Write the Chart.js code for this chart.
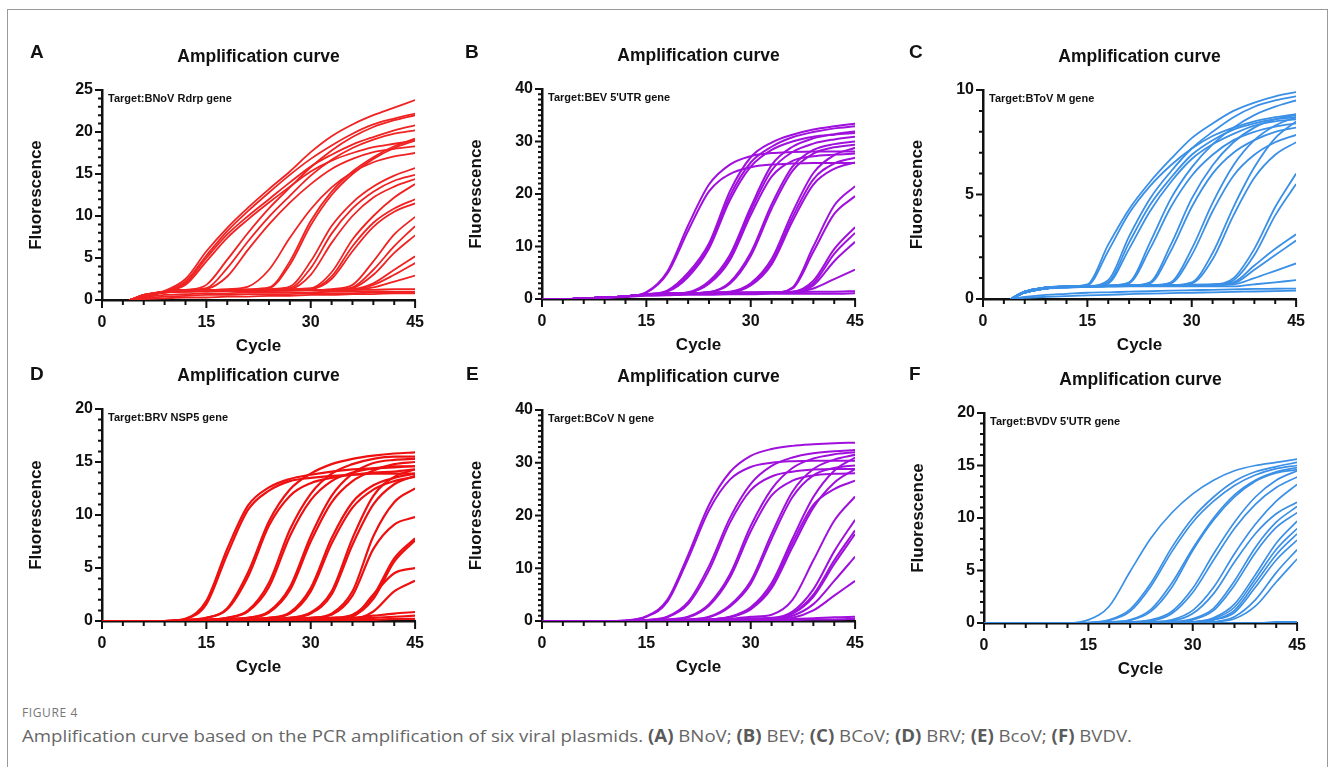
<!DOCTYPE html>
<html>
<head>
<meta charset="utf-8">
<script src="https://cdn.jsdelivr.net/npm/chart.js@4.4.1/dist/chart.umd.min.js"></script>
<style>
  body { margin: 0; width: 1330px; height: 767px; background: #fff; position: relative; overflow: hidden; }
  #frame { position: absolute; left: 7px; top: 9px; width: 1321px; height: 800px; border: 1px solid #9a9a9a; box-sizing: border-box; }
  canvas { position: absolute; }
  #figno { position: absolute; left: 22px; top: 704px; font: 12px "Open Sans", sans-serif; letter-spacing: 0.6px; color: #777; }
  #caption { position: absolute; left: 22px; top: 724px; font: 17px "Open Sans", sans-serif; color: #666; white-space: nowrap; transform-origin: 0 0; }
  #caption b { font-weight: 700; color: #5a5a5a; }
</style>
</head>
<body>
<div id="frame"></div>
<div id="figno">FIGURE 4</div>
<div id="caption">Amplification curve based on the PCR amplification of six viral plasmids. <b>(A)</b> BNoV; <b>(B)</b> BEV; <b>(C)</b> BCoV; <b>(D)</b> BRV; <b>(E)</b> BcoV; <b>(F)</b> BVDV.</div>
<script>
// cycles sampled per panel (A and C start at cycle 4)
const cyclesA = [4, 6, 9, 12, 15, 18, 21, 24, 27, 30, 33, 36, 39, 42, 45];
const cyclesC = [4, 6, 9, 12, 15, 18, 21, 24, 27, 30, 33, 36, 39, 42, 45];
const cyclesFull = [0, 3, 6, 9, 12, 15, 18, 21, 24, 27, 30, 33, 36, 39, 42, 45];

// A: BNoV Rdrp
const curvesA = [
  [0,0.6,1.1,2.5,5.8,8.6,11.0,13.2,15.3,17.6,19.5,20.9,22.0,22.9,23.8],
  [0,0.6,1.0,2.2,5.3,8.2,10.6,12.8,14.9,16.8,18.4,19.8,20.9,21.6,22.2],
  [0,0.5,1.0,2.0,5.0,7.8,10.0,12.0,14.0,15.9,17.3,18.5,19.4,20.2,20.8],
  [0,0.5,1.0,1.8,4.6,7.4,9.6,11.6,13.5,15.3,16.6,17.5,18.2,18.6,19.0],
  [0,0.6,1.0,1.2,1.8,4.8,8.0,10.9,13.4,15.8,17.8,19.4,20.6,21.4,22.0],
  [0,0.5,1.0,1.2,1.4,3.8,7.0,9.9,12.4,14.8,16.7,18.1,19.1,19.8,20.2],
  [0,0.5,0.9,1.1,1.3,2.8,6.0,9.0,11.6,13.8,15.6,16.8,17.6,18.0,18.3],
  [0,0.5,1.0,1.2,1.2,1.3,1.6,3.6,7.4,10.8,13.4,15.2,16.4,17.1,17.5],
  [0,0.5,1.0,1.2,1.2,1.2,1.3,1.5,4.6,9.4,12.9,15.3,17.0,18.3,19.2],
  [0,0.5,0.9,1.1,1.1,1.2,1.2,1.4,4.2,8.9,12.5,15.0,16.8,18.1,19.0],
  [0,0.5,1.0,1.2,1.2,1.2,1.2,1.3,1.6,4.6,8.8,11.6,13.5,14.8,15.7],
  [0,0.5,1.0,1.1,1.1,1.2,1.2,1.2,1.4,3.8,7.9,10.9,12.9,14.2,14.9],
  [0,0.4,0.9,1.1,1.1,1.1,1.2,1.2,1.3,3.0,6.8,10.0,12.2,13.5,14.4],
  [0,0.5,1.0,1.2,1.2,1.2,1.2,1.2,1.3,1.4,3.3,7.2,10.0,12.2,13.8],
  [0,0.5,1.0,1.1,1.1,1.2,1.2,1.2,1.2,1.3,2.8,6.4,9.2,10.9,12.0],
  [0,0.4,0.9,1.1,1.1,1.1,1.2,1.2,1.2,1.3,2.5,5.8,8.7,10.5,11.5],
  [0,0.5,1.0,1.1,1.1,1.2,1.2,1.2,1.2,1.2,1.3,1.8,4.6,7.8,9.9],
  [0,0.5,0.9,1.1,1.1,1.1,1.1,1.2,1.2,1.2,1.2,1.5,3.6,6.4,8.8],
  [0,0.4,0.9,1.0,1.1,1.1,1.1,1.1,1.2,1.2,1.2,1.4,3.0,5.6,7.7],
  [0,0.5,1.0,1.1,1.1,1.2,1.2,1.2,1.2,1.2,1.2,1.3,2.0,3.6,5.2],
  [0,0.5,0.9,1.0,1.1,1.1,1.1,1.1,1.2,1.2,1.2,1.2,1.8,3.0,4.4],
  [0,0.4,0.9,1.0,1.0,1.1,1.1,1.1,1.1,1.2,1.2,1.2,1.5,2.2,2.9],
  [0,0.6,1.0,1.1,1.1,1.1,1.2,1.2,1.2,1.2,1.2,1.2,1.2,1.3,1.3],
  [0,0.3,0.6,0.7,0.8,0.8,0.9,0.9,0.9,0.9,1.0,1.0,1.0,1.0,1.0],
  [0,0.1,0.2,0.3,0.3,0.4,0.4,0.5,0.5,0.6,0.6,0.7,0.7,0.8,0.8],
  [0,0.2,0.4,0.5,0.6,0.6,0.7,0.7,0.7,0.8,0.8,0.8,0.9,0.9,0.9]
];

// B: BEV 5'UTR
const curvesB = [
  [0,0,0.1,0.3,0.5,1.3,5.2,14.0,21.8,25.6,27.2,27.8,28.0,28.1,28.1,28.1],
  [0,0,0.1,0.3,0.5,1.2,4.8,13.0,20.5,23.8,25.1,25.6,25.8,25.9,25.9,25.9],
  [0,0,0.1,0.3,0.5,0.9,1.6,5.0,10.6,20.5,27.0,29.8,31.3,32.3,32.9,33.4],
  [0,0,0.1,0.3,0.5,0.9,1.5,4.6,10.0,19.6,26.0,29.0,30.8,31.8,32.5,32.9],
  [0,0,0.1,0.3,0.5,0.9,1.4,4.2,9.6,18.8,25.2,28.4,30.0,30.9,31.3,31.6],
  [0,0,0.1,0.3,0.5,0.8,1.0,1.3,3.4,8.4,17.5,25.5,29.0,30.6,31.4,31.9],
  [0,0,0.1,0.3,0.5,0.8,1.0,1.2,3.1,7.8,16.8,24.5,28.0,29.6,30.4,30.9],
  [0,0,0.1,0.3,0.5,0.8,1.0,1.2,2.9,7.4,16.0,23.3,26.3,27.2,27.5,27.7],
  [0,0,0.1,0.3,0.5,0.8,1.0,1.1,1.3,3.2,8.8,18.0,25.2,28.4,29.5,30.0],
  [0,0,0.1,0.3,0.5,0.8,1.0,1.1,1.3,2.9,8.2,17.2,24.4,27.7,28.9,29.4],
  [0,0,0.1,0.3,0.5,0.8,1.0,1.1,1.2,1.4,3.0,7.6,16.5,24.0,27.4,28.8],
  [0,0,0.1,0.3,0.5,0.8,1.0,1.1,1.2,1.3,2.8,7.0,15.6,22.8,25.8,26.9],
  [0,0,0.1,0.3,0.5,0.8,1.0,1.1,1.2,1.3,2.6,6.6,14.8,21.8,24.8,26.0],
  [0,0,0.1,0.3,0.5,0.8,1.0,1.1,1.2,1.2,1.2,1.2,2.2,10.0,17.8,21.5],
  [0,0,0.1,0.3,0.5,0.8,1.0,1.1,1.2,1.2,1.2,1.2,2.0,9.0,16.2,19.6],
  [0,0,0.1,0.3,0.5,0.8,1.0,1.1,1.2,1.2,1.2,1.3,1.4,3.5,9.5,13.7],
  [0,0,0.1,0.3,0.5,0.8,1.0,1.1,1.2,1.2,1.2,1.3,1.4,3.0,8.6,12.6],
  [0,0,0.1,0.3,0.5,0.8,1.0,1.1,1.1,1.2,1.2,1.2,1.3,2.6,7.2,10.9],
  [0,0,0.1,0.3,0.5,0.8,1.0,1.1,1.1,1.2,1.2,1.2,1.3,2.0,3.8,5.6],
  [0,0,0.1,0.3,0.5,0.8,0.9,1.0,1.1,1.1,1.2,1.3,1.3,1.4,1.4,1.5],
  [0,0,0.1,0.2,0.4,0.6,0.7,0.8,0.8,0.9,0.9,1.0,1.0,1.0,1.0,1.1]
];

// C: BToV M
const curvesC = [
  [0,0.35,0.55,0.6,0.7,2.6,4.3,5.6,6.7,7.7,8.4,9.0,9.4,9.7,9.9],
  [0,0.35,0.55,0.6,0.65,2.3,4.1,5.4,6.4,7.2,7.8,8.2,8.5,8.7,8.85],
  [0,0.35,0.55,0.6,0.62,0.9,3.0,4.8,6.1,7.2,8.0,8.7,9.2,9.5,9.7],
  [0,0.3,0.5,0.58,0.6,0.8,2.7,4.5,5.8,6.9,7.6,8.1,8.4,8.6,8.7],
  [0,0.3,0.5,0.58,0.6,0.75,2.4,4.2,5.6,6.7,7.4,7.9,8.3,8.5,8.6],
  [0,0.35,0.55,0.6,0.62,0.65,0.8,2.7,4.8,6.3,7.4,8.2,8.8,9.2,9.5],
  [0,0.3,0.5,0.58,0.6,0.62,0.75,2.4,4.4,5.9,6.9,7.6,8.0,8.25,8.4],
  [0,0.35,0.55,0.6,0.62,0.64,0.65,0.8,2.6,4.8,6.4,7.5,8.2,8.6,8.8],
  [0,0.3,0.5,0.58,0.6,0.62,0.64,0.75,2.3,4.4,6.0,7.0,7.6,8.0,8.2],
  [0,0.35,0.55,0.6,0.62,0.64,0.65,0.66,0.8,2.4,4.6,6.4,7.6,8.3,8.7],
  [0,0.3,0.5,0.58,0.6,0.62,0.64,0.65,0.75,2.1,4.2,5.9,6.9,7.5,7.85],
  [0,0.35,0.55,0.6,0.62,0.64,0.65,0.66,0.67,0.8,2.2,4.4,6.3,7.7,8.5],
  [0,0.3,0.5,0.58,0.6,0.62,0.64,0.65,0.66,0.75,1.9,4.0,5.8,6.9,7.5],
  [0,0.35,0.55,0.6,0.62,0.64,0.65,0.66,0.67,0.68,0.7,1.0,2.4,4.4,6.0],
  [0,0.3,0.5,0.58,0.6,0.62,0.64,0.65,0.66,0.67,0.68,0.9,2.1,4.0,5.5],
  [0,0.3,0.5,0.58,0.6,0.62,0.64,0.65,0.66,0.67,0.7,0.8,1.6,2.4,3.1],
  [0,0.3,0.5,0.55,0.58,0.6,0.62,0.63,0.64,0.65,0.68,0.75,1.4,2.1,2.8],
  [0,0.3,0.5,0.55,0.58,0.6,0.62,0.63,0.64,0.65,0.67,0.7,1.0,1.35,1.7],
  [0,0.3,0.5,0.55,0.6,0.6,0.6,0.6,0.6,0.6,0.6,0.6,0.7,0.8,0.9],
  [0,0.1,0.2,0.25,0.3,0.32,0.35,0.37,0.4,0.42,0.44,0.46,0.48,0.49,0.5],
  [0,0.05,0.1,0.14,0.17,0.2,0.23,0.26,0.28,0.3,0.32,0.34,0.36,0.38,0.4]
];

// D: BRV NSP5
const curvesD = [
  [0,0,0,0,0.2,1.9,6.8,10.9,12.6,13.4,13.8,14.1,14.3,14.4,14.5,14.6],
  [0,0,0,0,0.2,1.6,6.3,10.5,12.3,13.2,13.5,13.7,13.8,13.9,13.9,13.9],
  [0,0,0,0,0.1,0.3,1.2,4.6,9.4,12.4,13.9,14.8,15.3,15.6,15.8,15.9],
  [0,0,0,0,0.1,0.3,1.1,4.2,9.0,11.8,13.0,13.5,13.8,14.0,14.1,14.3],
  [0,0,0,0,0,0.1,0.3,1.0,3.6,8.6,12.0,13.9,14.8,15.3,15.5,15.5],
  [0,0,0,0,0,0.1,0.3,0.9,3.2,8.0,11.4,13.2,14.0,14.4,14.6,14.6],
  [0,0,0,0,0,0.1,0.2,0.3,0.9,3.2,8.0,11.8,13.9,14.9,15.2,15.3],
  [0,0,0,0,0,0.1,0.2,0.3,0.8,2.9,7.5,11.2,13.2,14.2,14.8,15.0],
  [0,0,0,0,0,0,0.1,0.2,0.3,0.8,3.1,7.8,11.2,12.8,13.5,13.9],
  [0,0,0,0,0,0,0.1,0.2,0.3,0.7,2.8,7.3,10.7,12.4,13.2,13.6],
  [0,0,0,0,0,0,0.1,0.1,0.2,0.3,0.8,2.8,7.8,11.8,13.6,14.3],
  [0,0,0,0,0,0,0.1,0.1,0.2,0.3,0.7,2.5,7.2,11.0,12.9,13.7],
  [0,0,0,0,0,0,0,0.1,0.1,0.2,0.3,0.7,2.8,8.0,11.2,12.5],
  [0,0,0,0,0,0,0,0.1,0.1,0.2,0.3,0.6,2.4,6.8,9.1,9.8],
  [0,0,0,0,0,0,0,0.1,0.1,0.2,0.2,0.3,0.6,2.4,5.9,7.8],
  [0,0,0,0,0,0,0,0.1,0.1,0.2,0.2,0.3,0.5,2.1,5.6,7.6],
  [0,0,0,0,0,0,0,0.1,0.1,0.1,0.2,0.2,0.4,2.5,4.5,5.0],
  [0,0,0,0,0,0,0,0,0.1,0.1,0.1,0.2,0.2,0.9,2.8,3.8],
  [0,0,0,0,0,0,0,0,0,0.1,0.1,0.1,0.3,0.5,0.7,0.85],
  [0,0,0,0,0,0,0,0,0,0,0.1,0.1,0.2,0.3,0.4,0.5],
  [0,0,0,0,0,0,0,0,0,0,0,0,0.1,0.1,0.2,0.2]
];

// E: BCoV N
const curvesE = [
  [0,0,0,0,0.1,0.9,4.0,12.5,22.0,28.2,31.3,32.6,33.2,33.5,33.7,33.8],
  [0,0,0,0,0.1,0.8,3.6,11.8,21.0,26.8,29.2,30.0,30.3,30.4,30.4,30.4],
  [0,0,0,0,0,0.2,0.8,3.6,10.4,19.5,26.0,29.4,31.0,31.8,32.2,32.4],
  [0,0,0,0,0,0.2,0.7,3.2,9.6,18.6,24.8,27.4,28.3,28.7,28.8,28.8],
  [0,0,0,0,0,0.1,0.3,0.8,3.2,8.8,18.0,25.0,29.0,30.8,31.6,32.0],
  [0,0,0,0,0,0.1,0.3,0.7,2.9,8.2,17.0,23.8,26.6,27.6,27.9,28.0],
  [0,0,0,0,0,0,0.1,0.3,0.8,3.0,7.6,16.5,24.5,28.8,30.6,31.5],
  [0,0,0,0,0,0,0.1,0.3,0.7,2.7,7.0,15.6,23.5,27.6,29.0,29.5],
  [0,0,0,0,0,0,0.1,0.2,0.3,0.8,2.6,7.2,15.6,23.5,28.5,31.0],
  [0,0,0,0,0,0,0.1,0.2,0.3,0.7,2.2,6.2,14.0,21.5,26.2,28.8],
  [0,0,0,0,0,0,0.1,0.2,0.3,0.7,2.4,6.6,14.8,22.0,25.0,26.6],
  [0,0,0,0,0,0,0,0.1,0.2,0.4,0.8,1.2,4.0,11.5,19.0,23.6],
  [0,0,0,0,0,0,0,0.1,0.2,0.3,0.5,0.6,1.8,6.0,13.2,19.2],
  [0,0,0,0,0,0,0,0.1,0.1,0.2,0.4,0.5,1.5,5.0,11.5,17.2],
  [0,0,0,0,0,0,0,0.1,0.1,0.2,0.3,0.5,1.4,4.6,10.8,16.5],
  [0,0,0,0,0,0,0,0.1,0.1,0.2,0.3,0.4,1.0,3.2,7.6,12.2],
  [0,0,0,0,0,0,0,0,0.1,0.1,0.2,0.3,0.6,2.0,4.8,7.6],
  [0,0,0,0,0,0,0,0,0.1,0.1,0.2,0.3,0.4,0.5,0.7,0.8],
  [0,0,0,0,0,0,0,0,0,0.1,0.1,0.2,0.2,0.3,0.3,0.4]
];

// F: BVDV 5'UTR
const curvesF = [
  [0,0,0,0,0,0.3,1.6,4.9,8.1,10.5,12.3,13.6,14.5,15.0,15.3,15.6],
  [0,0,0,0,0,0.05,0.3,1.3,3.8,7.2,10.0,12.0,13.5,14.4,14.9,15.3],
  [0,0,0,0,0,0.05,0.25,1.1,3.5,6.8,9.6,11.6,13.1,14.1,14.7,15.0],
  [0,0,0,0,0,0,0.1,0.3,1.3,3.8,7.1,10.0,12.2,13.6,14.4,14.8],
  [0,0,0,0,0,0,0.1,0.25,1.1,3.4,6.9,9.8,12.0,13.5,14.3,14.6],
  [0,0,0,0,0,0,0,0.1,0.3,1.1,3.3,6.6,9.6,12.0,13.6,14.5],
  [0,0,0,0,0,0,0,0.1,0.2,0.9,2.9,6.0,9.0,11.3,12.9,13.9],
  [0,0,0,0,0,0,0,0,0.1,0.3,1.2,3.4,6.6,9.4,11.6,13.2],
  [0,0,0,0,0,0,0,0,0.1,0.2,0.9,2.8,5.8,8.5,10.4,11.5],
  [0,0,0,0,0,0,0,0,0,0.1,0.4,1.4,4.0,7.2,9.6,11.1],
  [0,0,0,0,0,0,0,0,0,0.1,0.3,1.2,3.6,6.7,9.1,10.5],
  [0,0,0,0,0,0,0,0,0,0,0.1,0.5,1.8,4.6,7.6,9.7],
  [0,0,0,0,0,0,0,0,0,0,0.1,0.4,1.5,4.2,7.0,9.0],
  [0,0,0,0,0,0,0,0,0,0,0.1,0.3,1.2,3.8,6.5,8.5],
  [0,0,0,0,0,0,0,0,0,0,0.1,0.3,1.0,3.4,6.0,7.9],
  [0,0,0,0,0,0,0,0,0,0,0,0.1,0.6,2.2,4.8,7.0],
  [0,0,0,0,0,0,0,0,0,0,0,0.1,0.4,1.6,3.9,6.1],
  [0,0,0,0,0,0,0,0,0,0,0,0,0,0,0.1,0.1],
  [0,0,0,0,0,0,0,0,0,0,0,0,0,0,0,0]
];

const xTicks = [0, 15, 30, 45];
const FONT = '"Liberation Sans", Arial, sans-serif';
const INK = '#111';
const PLOT_W = 315;

// plot-area placement on the page, one entry per panel
const panels = [
  { letter: 'A', target: 'Target:BNoV Rdrp gene', cycles: cyclesA, curves: curvesA, yMax: 25, yStep: 5, color: '#f02222', lw: 1.8, left: 102, top: 90, h: 210, lx: -72, ly: -37 },
  { letter: 'B', target: "Target:BEV 5'UTR gene", cycles: cyclesFull, curves: curvesB, yMax: 40, yStep: 10, color: '#a010dc', lw: 2, left: 542, top: 89, h: 210, lx: -77, ly: -36 },
  { letter: 'C', target: 'Target:BToV M gene', cycles: cyclesC, curves: curvesC, yMax: 10, yStep: 5, color: '#3a8fe6', lw: 1.8, left: 983, top: 90, h: 209, lx: -74, ly: -37 },
  { letter: 'D', target: 'Target:BRV NSP5 gene', cycles: cyclesFull, curves: curvesD, yMax: 20, yStep: 5, color: '#ee1010', lw: 2.2, left: 102, top: 409, h: 212, lx: -72, ly: -34 },
  { letter: 'E', target: 'Target:BCoV N gene', cycles: cyclesFull, curves: curvesE, yMax: 40, yStep: 10, color: '#a010dc', lw: 2, left: 542, top: 410, h: 211, lx: -76, ly: -35 },
  { letter: 'F', target: "Target:BVDV 5'UTR gene", cycles: cyclesFull, curves: curvesF, yMax: 20, yStep: 5, color: '#3a8fe6', lw: 1.7, left: 984, top: 413, h: 210, lx: -75, ly: -38 },
];

// short minor ticks + longer major ticks, placed through the chart's scales
const tickMarks = {
  id: 'tickMarks',
  afterDraw(chart, args, opts) {
    const { ctx, chartArea: { left, bottom }, scales: { x, y } } = chart;
    ctx.save();
    ctx.strokeStyle = INK;
    ctx.lineWidth = 2;
    ctx.beginPath();
    for (let v = 0; v <= 45; v += 3) {
      const px = x.getPixelForValue(v);
      const len = v % 15 === 0 ? 8 : 5;
      ctx.moveTo(px, bottom);
      ctx.lineTo(px, bottom + len);
    }
    for (let v = 0; v <= opts.yMax; v += 1) {
      const py = y.getPixelForValue(v);
      const len = v % opts.yStep === 0 ? 7 : 4;
      ctx.moveTo(left - len, py);
      ctx.lineTo(left, py);
    }
    ctx.stroke();
    ctx.restore();
  }
};

const panelText = {
  id: 'panelText',
  afterDraw(chart, args, opts) {
    const { ctx, chartArea: { left, right, top } } = chart;
    ctx.save();
    ctx.fillStyle = INK;
    ctx.textBaseline = 'middle';
    ctx.textAlign = 'left';
    ctx.font = 'bold 19px ' + FONT;
    ctx.fillText(opts.letter, left + opts.lx, top + opts.ly);
    ctx.textAlign = 'center';
    ctx.font = 'bold 17.5px ' + FONT;
    ctx.fillText('Amplification curve', (left + right) / 2, top - 33);
    ctx.textAlign = 'left';
    ctx.font = 'bold 11px ' + FONT;
    ctx.fillText(opts.target, left + 6, top + 9);
    ctx.restore();
  }
};

Chart.defaults.font.family = FONT;
Chart.defaults.color = INK;

panels.forEach(p => {
  const cv = document.createElement('canvas');
  cv.width = PLOT_W + 100;
  cv.height = p.h + 120;
  cv.style.left = (p.left - 80) + 'px';
  cv.style.top = (p.top - 60) + 'px';
  document.body.appendChild(cv);

  new Chart(cv, {
    type: 'line',
    data: {
      datasets: p.curves.map(vals => ({
        data: vals.map((v, i) => ({ x: p.cycles[i], y: v })),
        borderColor: p.color,
        borderWidth: p.lw,
        pointRadius: 0,
        fill: false,
        cubicInterpolationMode: 'monotone',
      })),
    },
    options: {
      responsive: false,
      animation: false,
      events: [],
      layout: { padding: { left: 0, right: 20, top: 60, bottom: 0 } },
      plugins: {
        legend: { display: false },
        tooltip: { enabled: false },
        tickMarks: { yMax: p.yMax, yStep: p.yStep },
        panelText: { letter: p.letter, target: p.target, lx: p.lx, ly: p.ly },
      },
      scales: {
        x: {
          type: 'linear', min: 0, max: 45,
          afterFit: s => { s.height = 60; },
          afterBuildTicks: s => { s.ticks = xTicks.map(v => ({ value: v })); },
          grid: { display: false, drawTicks: false },
          border: { display: true, color: INK, width: 2.5 },
          ticks: { padding: 13, color: INK, font: { size: 16, weight: 'bold' }, maxRotation: 0, autoSkip: false },
          title: { display: true, text: 'Cycle', color: INK, font: { size: 17, weight: 'bold' }, padding: { top: 0, bottom: 3 } },
        },
        y: {
          min: 0, max: p.yMax,
          afterFit: s => { s.width = 80; },
          grid: { display: false, drawTicks: false },
          border: { display: true, color: INK, width: 2.5 },
          ticks: { stepSize: p.yStep, padding: 9, color: INK, font: { size: 16, weight: 'bold' } },
          title: { display: true, text: 'Fluorescence', color: INK, font: { size: 17, weight: 'bold' }, padding: { top: 4, bottom: 0 } },
        },
      },
    },
    plugins: [tickMarks, panelText],
  });
});

// caption font is narrower than Open Sans; fit it to the original line length
const cap = document.getElementById('caption');
cap.style.transform = 'scaleX(' + (1110 / cap.getBoundingClientRect().width) + ')';
</script>
</body>
</html>
